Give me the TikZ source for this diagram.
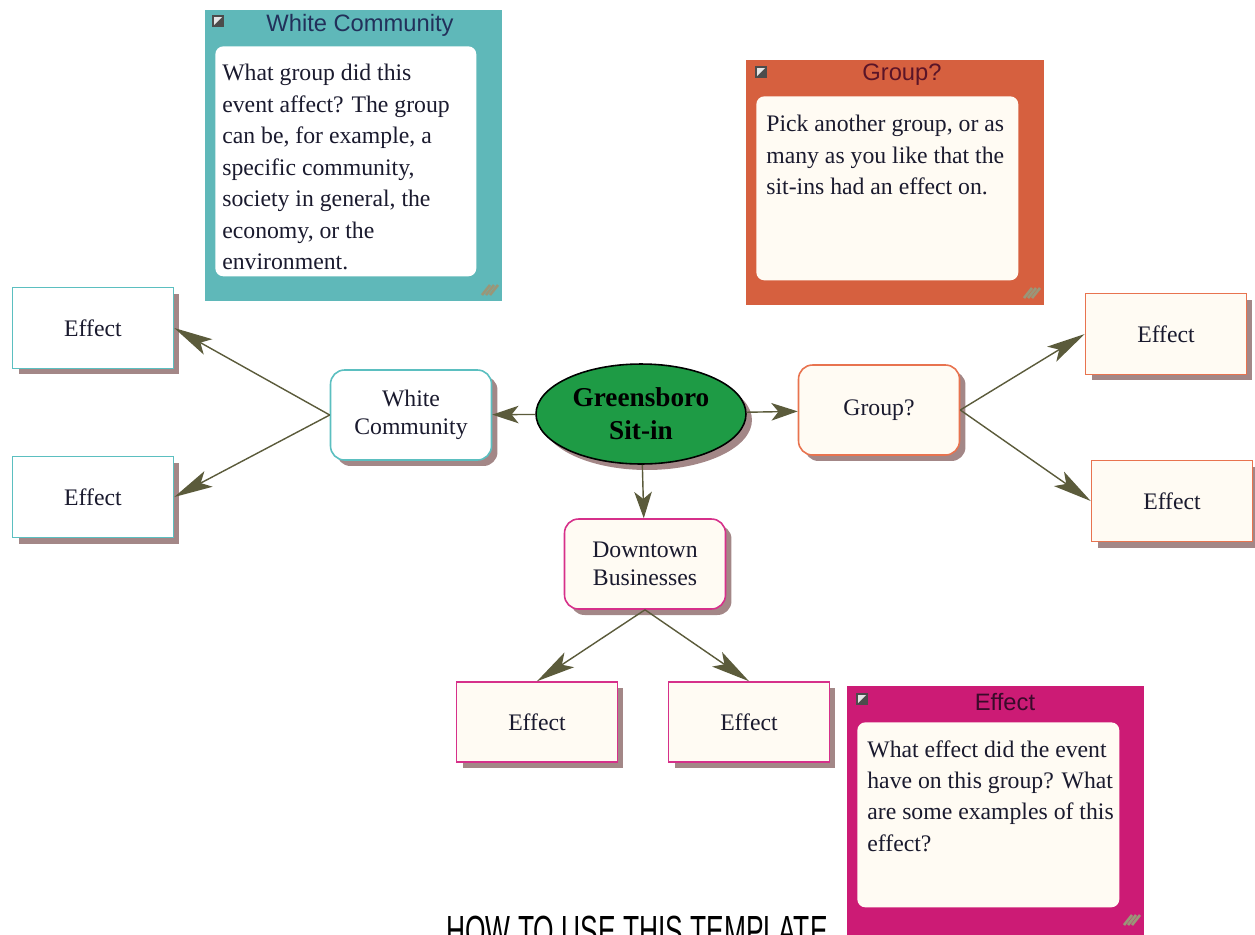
\documentclass[tikz,border=0pt]{standalone}
\usepackage{fontspec}
\setmainfont{Liberation Serif}
\setsansfont{Liberation Sans}
\usetikzlibrary{arrows.meta}
\usetikzlibrary{shapes.geometric}
\usetikzlibrary{shadows}

\definecolor{tealnote}{HTML}{5FB8B9}
\definecolor{orangenote}{HTML}{D6603F}
\definecolor{magentanote}{HTML}{CC1B75}
\definecolor{tealline}{HTML}{5BBFC0}
\definecolor{orangeline}{HTML}{E8734F}
\definecolor{magentaline}{HTML}{D6308A}
\definecolor{cream}{HTML}{FFFBF3}
\definecolor{sitin}{HTML}{1E9B45}
\definecolor{arrowc}{HTML}{5B5B3B}
\definecolor{shadowc}{HTML}{A38787}
\definecolor{inkc}{HTML}{1A1A2E}
\definecolor{gripc}{HTML}{9A9678}
\definecolor{wctitle}{HTML}{22305A}
\definecolor{grtitle}{HTML}{5A1428}
\definecolor{eftitle}{HTML}{3A0A2A}

\begin{document}
\begin{tikzpicture}[x=0.02cm,y=-0.02cm]
  \tikzset{box/.style = {shape=rectangle,draw,line width=0.9pt,minimum width=3.22cm,minimum height=1.62cm,inner sep=1pt,text=inkc,font=\fontsize{13.5}{16}\selectfont,drop shadow={shadow xshift=0.12cm,shadow yshift=-0.12cm,fill=shadowc,opacity=1}}}
  \tikzset{topic/.style = {box,rounded corners=0.28cm,minimum height=1.8cm,align=center}}
  \tikzset{hub/.style = {shape=ellipse,draw=black,line width=0.9pt,fill=sitin,minimum width=4.2cm,minimum height=2cm,inner sep=0pt,align=center,font=\bfseries\fontsize{15.5}{18.7}\selectfont,drop shadow={shadow xshift=0.12cm,shadow yshift=-0.12cm,fill=shadowc,opacity=1}}}
  \tikzset{hubarrow/.style = {-{Stealth[length=15pt,width=10pt,inset=4pt]},draw=arrowc,fill=arrowc,line width=0.8pt}}
  \tikzset{fanarrow/.style = {-{Stealth[length=22pt,width=10pt,inset=5pt]},draw=arrowc,fill=arrowc,line width=0.8pt}}
  \tikzset{note/.style = {shape=rectangle,anchor=north west,inner sep=0pt}}
  \tikzset{notepad/.style = {shape=rectangle,anchor=north west,inner sep=0pt,rounded corners=0.16cm}}
  \tikzset{notetext/.style = {anchor=north west,inner sep=0pt,align=left,text=inkc,font=\fontsize{13.5}{17.9}\selectfont}}
  \tikzset{notetitle/.style = {inner sep=0pt,font=\sffamily\fontsize{13.5}{16}\selectfont}}
  \tikzset{grip/.style = {draw=gripc,line width=1.5pt}}

  \useasboundingbox (0,0) rectangle (1255,934);
  \clip (0,0) rectangle (1255,934);

  % note boxes
  \node[note,fill=tealnote,minimum width=5.94cm,minimum height=5.82cm] (WCnote) at (205,10) {};
  \node[notepad,fill=white,minimum width=5.22cm,minimum height=4.6cm] (WCpad) at (215,46) {};
  \node[notetitle,text=wctitle] (WCtitle) at (360,25) {White Community};
  \node[notetext] (WCtext) at (222,64) {What group did this\\event affect? The group\\can be, for example, a\\specific community,\\society in general, the\\economy, or the\\environment.};

  \node[note,fill=orangenote,minimum width=5.96cm,minimum height=4.9cm] (GRnote) at (746,60) {};
  \node[notepad,fill=cream,minimum width=5.24cm,minimum height=3.68cm] (GRpad) at (756,96) {};
  \node[notetitle,text=grtitle] (GRtitle) at (902,75) {Group?};
  \node[notetext] (GRtext) at (766,115) {Pick another group, or as\\many as you like that the\\sit-ins had an effect on.};

  \node[note,fill=magentanote,minimum width=5.94cm,minimum height=5.3cm] (EFnote) at (847,686) {};
  \node[notepad,fill=cream,minimum width=5.24cm,minimum height=3.7cm] (EFpad) at (857,722) {};
  \node[notetitle,text=eftitle] (EFtitle) at (1005,702) {Effect};
  \node[notetext] (EFtext) at (867,740) {What effect did the event\\have on this group? What\\are some examples of this\\effect?};

  \foreach \ix/\iy in {212/15, 755/66, 856/693} {
    \fill[black!70] (\ix,\iy) rectangle (\ix+12,\iy+12);
    \fill[black!10] (\ix+2,\iy+2) -- (\ix+10,\iy+2) -- (\ix+2,\iy+10) -- cycle;
  }
  \foreach \gx/\gy in {482/282, 1024/285, 1124/912}
    \foreach \d in {0,4,8}
      \draw[grip] (\gx+\d,\gy+13) -- (\gx+\d+8,\gy+3);

  % diagram
  \node[hub] (GS) at (641,414) {Greensboro\\Sit-in};

  \node[topic,draw=tealline,fill=white] (WC) at (411,415) {White\\Community};
  \node[topic,draw=orangeline,fill=cream] (GR) at (879,410) {Group?};
  \node[topic,draw=magentaline,fill=cream] (DB) at (645,564) {Downtown\\Businesses};

  \node[box,draw=tealline,fill=white] (WCeff1) at (93,328) {Effect};
  \node[box,draw=tealline,fill=white] (WCeff2) at (93,497) {Effect};
  \node[box,draw=orangeline,fill=cream] (GReff1) at (1166,334) {Effect};
  \node[box,draw=orangeline,fill=cream] (GReff2) at (1172,501) {Effect};
  \node[box,draw=magentaline,fill=cream,minimum height=1.6cm] (DBeff1) at (537,722) {Effect};
  \node[box,draw=magentaline,fill=cream,minimum height=1.6cm] (DBeff2) at (749,722) {Effect};

  \foreach \from/\to in {GS/WC, GS/GR, GS/DB}
    \draw[hubarrow] (\from) -- (\to);
  \foreach \from/\to in {WC.west/WCeff1.east, WC.west/WCeff2.east, GR.east/GReff1.west, GR.east/GReff2.west, DB.south/DBeff1.north, DB.south/DBeff2.north}
    \draw[fanarrow] (\from) -- (\to);

  \node[anchor=north,inner sep=0pt,font=\sffamily\fontsize{24}{28}\selectfont] (howto) at (637,916) {\scalebox{0.625}[1]{HOW TO USE THIS TEMPLATE}};
\end{tikzpicture}
\end{document}
